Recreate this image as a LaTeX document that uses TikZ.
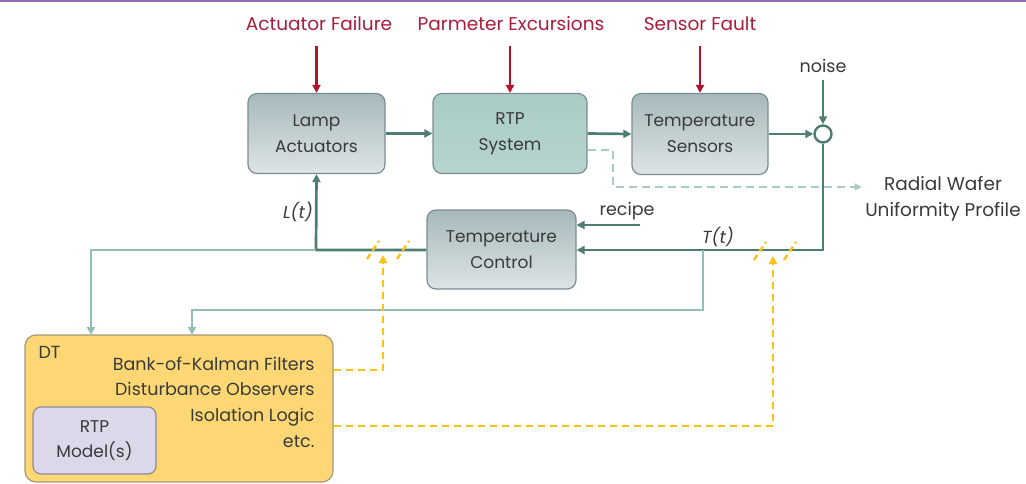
\documentclass[tikz,border=0pt]{standalone}
\usepackage{fontspec}
\setmainfont{Poppins}
\usetikzlibrary{arrows.meta}
\definecolor{tealdark}{HTML}{4F7D74}
\definecolor{teallight}{HTML}{93BDB7}
\definecolor{tealdash}{HTML}{A9CBC6}
\definecolor{boxborder}{HTML}{7D8C93}
\definecolor{gradtop}{HTML}{A7B9BC}
\definecolor{gradbot}{HTML}{DDE4E5}
\definecolor{rtpfill}{HTML}{AACCC6}
\definecolor{redtxt}{HTML}{A81C3C}
\definecolor{redarr}{HTML}{B3122B}
\definecolor{yel}{HTML}{F7C21A}
\definecolor{dtfill}{HTML}{FCD774}
\definecolor{dtborder}{HTML}{A3987A}
\definecolor{modfill}{HTML}{DCD8EA}
\definecolor{modborder}{HTML}{8E8A9A}
\definecolor{purp}{HTML}{8C6BB1}
\definecolor{txt}{HTML}{3A3A3A}
\tikzset{
  x=1pt, y=-1pt,
  every node/.style={font=\fontsize{17.5}{26}\selectfont, text=txt},
  blk/.style={draw=boxborder, line width=1.2pt, rounded corners=9pt, align=center,
    top color=gradtop, bottom color=gradbot, inner sep=0pt, font=\fontsize{17}{26}\selectfont},
  darr/.style={draw=tealdark, line width=2.7pt, -{Triangle[length=8pt,width=8pt]}},
  larr/.style={draw=teallight, line width=2.7pt, -{Triangle[length=8pt,width=8pt]}},
  rarr/.style={draw=redarr, line width=2.7pt, -{Triangle[length=8pt,width=8pt]}},
  yarr/.style={draw=yel, line width=2.6pt, dash pattern=on 7pt off 5pt, -{Triangle[length=8pt,width=8pt]}},
  yslash/.style={draw=yel, line width=2.4pt, dash pattern=on 6pt off 4pt},
  redlbl/.style={text=redtxt, font=\fontsize{18.5}{22}\selectfont},
}
\begin{document}
\begin{tikzpicture}
\useasboundingbox (0,0) rectangle (1026,484);
\fill[purp] (0,0) rectangle (1026,2);

% blocks
\node[blk, minimum width=137pt, minimum height=80pt] (lamp) at (316.5,133.5) {Lamp\\Actuators};
\node[blk, top color=rtpfill, bottom color=rtpfill!85!white, minimum width=154pt, minimum height=80pt] (rtp) at (510,133.5) {RTP\\System};
\node[blk, minimum width=136pt, minimum height=81pt] (sens) at (700,134) {Temperature\\Sensors};
\node[blk, minimum width=149pt, minimum height=79pt] (tc) at (501.5,249.5) {Temperature\\Control};
\node[draw=tealdark, line width=2.4pt, circle, minimum size=17pt, inner sep=0pt, fill=white] (sum) at (823,134) {};

% DT
\node[draw=dtborder, fill=dtfill, line width=1.2pt, rounded corners=11pt, minimum width=308pt, minimum height=147pt, inner sep=0pt] (dt) at (179,408.5) {};
\node[draw=modborder, fill=modfill, line width=1.2pt, rounded corners=8pt, minimum width=123pt, minimum height=67pt, align=center, inner sep=0pt, font=\fontsize{17}{25}\selectfont] (model) at (94.5,440.5) {RTP\\Model(s)};
\node[anchor=west] (dtl) at (35,352) {DT};
\node[anchor=east, align=right, font=\fontsize{17.5}{25.6}\selectfont] (dttxt) at (318,402) {Bank-of-Kalman Filters\\Disturbance Observers\\Isolation Logic\\etc.};

% labels
\node[redlbl] (taf) at (319,24) {Actuator Failure};
\node[redlbl] (tpe) at (511,24) {Parmeter Excursions};
\node[redlbl] (tsf) at (700,24) {Sensor Fault};
\node (noise) at (823,66) {noise};
\node (recipe) at (627,211) {recipe};
\node[align=center, font=\fontsize{18.5}{26}\selectfont] (radial) at (943,199) {Radial Wafer\\Uniformity Profile};
\node[font=\fontsize{17.5}{20}\itshape] (lt) at (298,212) {L(t)};
\node[font=\fontsize{17.5}{20}\itshape] (tt) at (718,237) {T(t)};

% coordinates
\coordinate (tcorner) at (823,250);
\coordinate (lcorner) at (316,250);
\coordinate (tbr) at (703,250);
\coordinate (dtin1) at (91,335);
\coordinate (dtin2) at (192,335);

% red arrows
\draw[rarr] (lamp.north |- 0,46) -- (lamp.north);
\draw[rarr] (rtp.north |- 0,46) -- (rtp.north);
\draw[rarr] (sens.north |- 0,46) -- (sens.north);

% forward path
\draw[darr] (lamp.east) -- (rtp.west);
\draw[darr] (rtp.east) -- (sens.west);
\draw[darr] (sens.east) -- (sum.west);
\draw[darr] (sum.north |- 0,80) -- (sum.north);
\draw[darr] (sum.south) -- (tcorner) -- (tc.east |- tcorner);
\draw[darr] (640,225) -- (tc.east |- 0,225);
\draw[darr] (tc.west |- lcorner) -- (lcorner) -- (lamp.south);

% light feedback to DT
\draw[larr] (lcorner) -- (91,250) -- (dtin1);
\draw[larr] (tbr) -- (703,310) -- (192,310) -- (dtin2);

% dashed output
\draw[draw=tealdash, line width=2.2pt, dash pattern=on 8pt off 5pt, -{Triangle[length=7pt,width=7pt]}]
  (rtp.east |- 0,150) -- (613,150) -- (613,187) -- (radial.west |- 0,187);

% yellow
\draw[yslash] (367,259) -- (379,241);
\draw[yslash] (397,259) -- (409,241);
\draw[yslash] (754,260) -- (766,242);
\draw[yslash] (784,260) -- (796,242);
\draw[yarr] (dt.east |- 0,370) -- (383,370) -- (383,255);
\draw[yarr] (dt.east |- 0,426) -- (773,426) -- (773,256);
\end{tikzpicture}
\end{document}
